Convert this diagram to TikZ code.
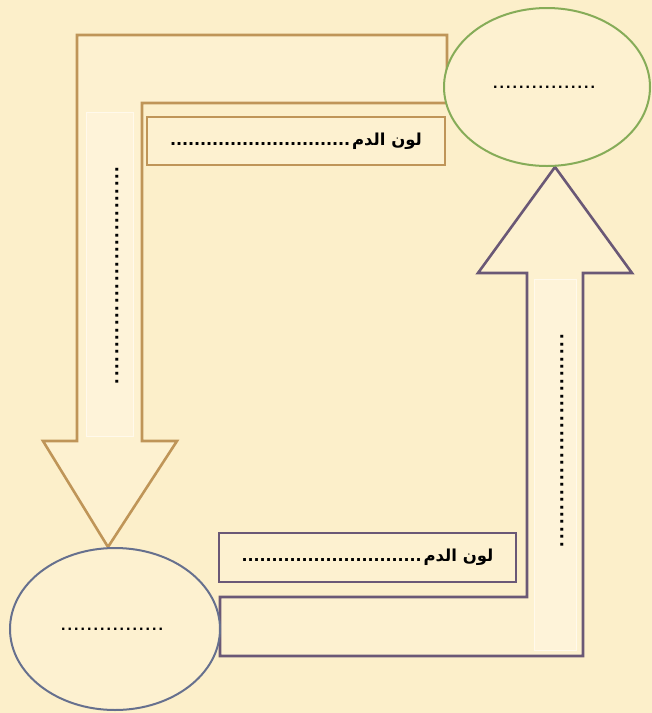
\documentclass[tikz,border=0pt]{standalone}
\usepackage{fontspec}
\setmainfont{Liberation Sans}
\newfontfamily\arabicfont[Script=Arabic]{DejaVu Sans}
\TeXXeTstate=1
\usetikzlibrary{shapes.geometric}
\definecolor{bgc}{HTML}{FCEFCA}
\definecolor{tanc}{HTML}{BF9558}
\definecolor{purc}{HTML}{6A5876}
\definecolor{grnc}{HTML}{86AC58}
\definecolor{bluc}{HTML}{66708E}
\definecolor{fillc}{HTML}{FDF1D0}
\definecolor{stripc}{HTML}{FEF3D9}
\newcommand{\mydots}[2]{\hbox to #1{\leaders\hbox to #2{\hss.\hss}\hfill}}
\tikzset{
  arrowshape/.style={line width=2.6pt, fill=fillc, line join=miter},
  strip/.style={fill=stripc, draw=white!50!stripc, line width=0.8pt},
  labelbox/.style={draw, line width=2.6pt, fill=fillc, rectangle, inner sep=0pt, font=\fontsize{20}{20}\selectfont\bfseries},
  oval/.style={ellipse, draw, line width=2pt, fill=fillc, inner sep=0pt, font=\fontsize{16}{16}\selectfont\bfseries},
  vdots/.style={rotate=90, inner sep=0pt, font=\fontsize{20}{20}\selectfont\bfseries}
}
\begin{document}
\begin{tikzpicture}[x=1pt,y=-1pt]
\useasboundingbox (0,0) rectangle (652,713);
\fill[bgc] (0,0) rectangle (652,713);
% tan bent arrow (down)
\draw[arrowshape, draw=tanc] (447,35) -- (77,35) -- (77,441) -- (43,441) -- (108,547) -- (177,441) -- (142,441) -- (142,103) -- (447,103) -- cycle;
\draw[strip] (86,112) rectangle (133,436);
% purple bent arrow (up)
\draw[arrowshape, draw=purc] (220,597) -- (527,597) -- (527,273) -- (478,273) -- (555,167) -- (632,273) -- (583,273) -- (583,656) -- (220,656) -- cycle;
\draw[strip] (534,279) rectangle (576,650);
% label boxes
\node[labelbox, draw=tanc, minimum width=298pt, minimum height=48pt] (lab1) at (296,141)
  {\mydots{182pt}{6pt}{\fontsize{16.5}{20}\arabicfont\bfseries\beginR لون الدم\endR}};
\node[labelbox, draw=purc, minimum width=297pt, minimum height=49pt] (lab2) at (367.5,557.5)
  {\mydots{182pt}{6pt}{\fontsize{16.5}{20}\arabicfont\bfseries\beginR لون الدم\endR}};
% ellipses
\node[oval, draw=grnc, minimum width=206pt, minimum height=158pt] (top) at (547,87) {\mydots{110pt}{6.5pt}};
\node[oval, draw=bluc, minimum width=210pt, minimum height=162pt] (bot) at (115,629) {\mydots{110pt}{6.5pt}};
% vertical dotted lines
\node[vdots] (vl) at (117,273.5) {\mydots{223pt}{7.3pt}};
\node[vdots] (vr) at (562,437.5) {\mydots{221pt}{7.4pt}};
\end{tikzpicture}
\end{document}
